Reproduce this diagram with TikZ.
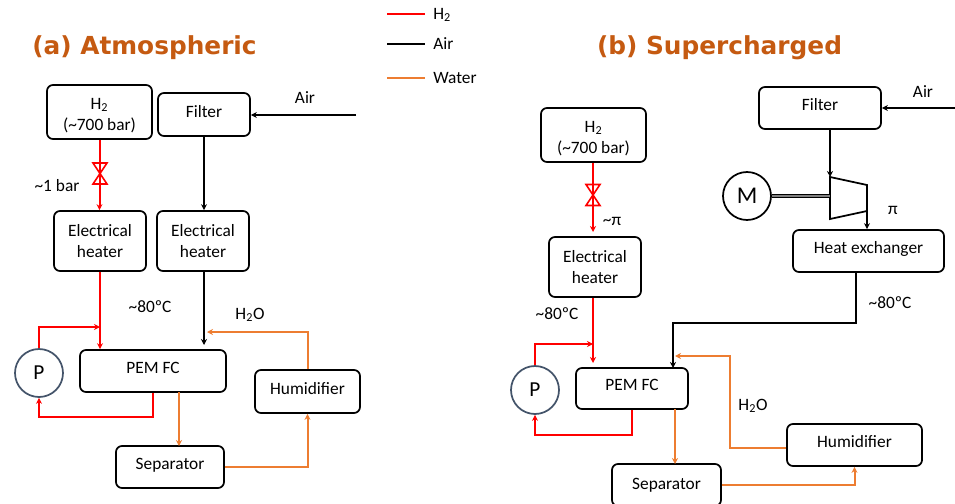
\documentclass[tikz,border=0pt]{standalone}
\usepackage{fontspec}
\setmainfont{Carlito}
\newfontfamily\titlefont{DejaVu Sans}
\usetikzlibrary{arrows.meta,calc}
\definecolor{FlowRed}{HTML}{FF0000}
\definecolor{FlowWater}{HTML}{ED7D31}
\definecolor{TitleRust}{HTML}{C55A11}
\definecolor{PumpSlate}{HTML}{44546A}

\tikzset{
  plantbox/.style 2 args={draw,line width=1.3pt,rounded corners=4.5pt,align=center,
    inner sep=0pt,minimum width=#1*0.75pt,minimum height=#2*0.75pt},
  liftedtext/.style={text depth=5pt},
  pumpdisc/.style={draw=PumpSlate,circle,line width=1.3pt,inner sep=0pt,minimum size=36pt,font=\fontsize{16}{16}\selectfont},
  motordisc/.style={draw,circle,line width=1.3pt,inner sep=0pt,minimum size=36pt,font=\fontsize{18}{18}\selectfont},
  hline/.style={FlowRed,line width=1.5pt},
  aline/.style={black,line width=1.4pt},
  wline/.style={FlowWater,line width=1.5pt},
  paneltitle/.style={font=\titlefont\fontsize{18.6}{18.6}\selectfont\bfseries,text=TitleRust},
  legendtext/.style={anchor=west,inner sep=0pt},
  valve/.pic={\draw[FlowRed,line width=1.2pt] (-7,-10.5)--(7,-10.5)--(-7,10.5)--(7,10.5)--cycle;}
}
\newcommand{\tankstrut}{\rule{0pt}{13.5pt}}

\begin{document}
\begin{tikzpicture}[>={Stealth[length=4.5pt,width=4.5pt]},x=0.75pt,y=-0.75pt,font=\fontsize{13}{16}\selectfont]
  \useasboundingbox (0,0) rectangle (955,503);

  % legend
  \coordinate (lha) at (387,14);  \coordinate (lhb) at (425,14);
  \coordinate (laa) at (387,44);  \coordinate (lab) at (425,44);
  \coordinate (lwa) at (387,78);  \coordinate (lwb) at (425,78);
  \draw[hline] (lha)--(lhb);
  \draw[aline] (laa)--(lab);
  \draw[wline] (lwa)--(lwb);
  \node[legendtext] (lhtext) at (433,15) {H\textsubscript{2}};
  \node[legendtext] (latext) at (433,44) {Air};
  \node[legendtext] (lwtext) at (433,78) {Water};

  % (a) atmospheric
  \node[paneltitle] (titlea) at (144.5,48) {(a) Atmospheric};
  \node[plantbox={105}{54}] (tanka) at (99.5,112) {\tankstrut H\textsubscript{2}\\(\textasciitilde700 bar)};
  \node[plantbox={92}{43},liftedtext] (filtera) at (204,114.5) {Filter};
  \node[plantbox={92}{60}] (heaterha) at (100,241) {Electrical\\heater};
  \node[plantbox={92}{60}] (heateraa) at (203,241) {Electrical\\heater};
  \node[plantbox={146}{42},liftedtext] (pema) at (153,371) {PEM FC};
  \node[pumpdisc] (pumpa) at (39,373) {P};
  \node[plantbox={105}{43},liftedtext] (humida) at (307.5,391.5) {Humidifier};
  \node[plantbox={108}{42},liftedtext] (sepa) at (170,467) {Separator};

  \coordinate (aira) at (356,115);
  \coordinate (jointa) at (100,327);
  \coordinate (airenda) at (204,345);
  \coordinate (watera) at (207,332);

  \draw[hline,->] (tanka.south)--(tanka.south |- heaterha.north);
  \pic at (100,173.5) {valve};
  \draw[hline,->] (heaterha.south)--(heaterha.south |- pema.north);
  \draw[hline,->] (pumpa.north)--(pumpa.north |- jointa)--(jointa);
  \draw[hline,->] (pema.south)--++(0,24.5)-|(pumpa.south);
  \draw[aline,->] (aira)--(filtera.east |- aira);
  \draw[aline,->] (filtera.south)--(filtera.south |- heateraa.north);
  \draw[aline,->] (airenda |- heateraa.south)--(airenda);
  \draw[wline,->] (humida.north)--(humida.north |- watera)--(watera);
  \draw[wline,->] (179,392)--(179,446);
  \draw[wline,->] (sepa.east)-|(humida.south);

  \node (aira label) at (305,98) {Air};
  \node (bara label) at (57,186) {\textasciitilde1 bar};
  \node (tempa label) at (150,307) {\textasciitilde80ºC};
  \node (watera label) at (250,315) {H\textsubscript{2}O};

  % (b) supercharged
  \node[paneltitle] (titleb) at (719.5,48) {(b) Supercharged};
  \node[plantbox={105}{54}] (tankb) at (593.5,135) {\tankstrut H\textsubscript{2}\\(\textasciitilde700 bar)};
  \node[plantbox={122}{42},liftedtext] (filterb) at (820,108) {Filter};
  \node[plantbox={92}{60}] (heaterhb) at (595,267) {Electrical\\heater};
  \node[plantbox={151}{42},liftedtext] (exchb) at (868.5,251) {Heat exchanger};
  \node[motordisc] (motorb) at (747,196) {M};
  \node[plantbox={112}{41},liftedtext] (pemb) at (632,388.5) {PEM FC};
  \node[pumpdisc] (pumpb) at (535,390) {P};
  \node[plantbox={135}{42},liftedtext] (humidb) at (854.5,445) {Humidifier};
  \node[plantbox={109}{42}] (sepb) at (666.5,485) {Separator};

  \coordinate (compa) at (830,177);
  \coordinate (compb) at (867,185);
  \coordinate (compc) at (867,211);
  \coordinate (compd) at (830,219);
  \coordinate (airb) at (955,108);
  \coordinate (jointb) at (593,344);
  \coordinate (tankendb) at (593,232);
  \coordinate (heatendb) at (593,363);
  \coordinate (waterb) at (675,356);

  \draw[line width=1.3pt] (compa)--(compb)--(compc)--(compd)--cycle;
  \draw[line width=0.6pt,double=gray,double distance=2pt] (motorb.east)--(motorb.east -| compa);
  \draw[hline,->] (tankendb |- tankb.south)--(tankendb);
  \pic at (593,195) {valve};
  \draw[hline,->] (heatendb |- heaterhb.south)--(heatendb);
  \draw[hline,->] (pumpb.north)--(pumpb.north |- jointb)--(jointb);
  \draw[hline,->] (pemb.south)--++(0,25)-|(pumpb.south);
  \draw[aline,->] (airb)--(filterb.east);
  \draw[aline,->] (compa |- filterb.south)--(compa);
  \draw[aline,->] (compc)--(compc |- exchb.north);
  \draw[aline,->] (856,272)--(856,323)--(673,323)--(673,368);
  \draw[wline,->] (humidb.west |- 0,448)--(730,448)--(730,356)--(waterb);
  \draw[wline,->] (675,409)--(675,464);
  \draw[wline,->] (sepb.east)-|(humidb.south);

  \node (airb label) at (923,92) {Air};
  \node (pib label) at (893,210) {π};
  \node (pitb label) at (612,221) {\textasciitilde π};
  \node (tempc label) at (557,314) {\textasciitilde80ºC};
  \node (tempd label) at (890,303) {\textasciitilde80ºC};
  \node (waterb label) at (753,406) {H\textsubscript{2}O};
\end{tikzpicture}
\end{document}
